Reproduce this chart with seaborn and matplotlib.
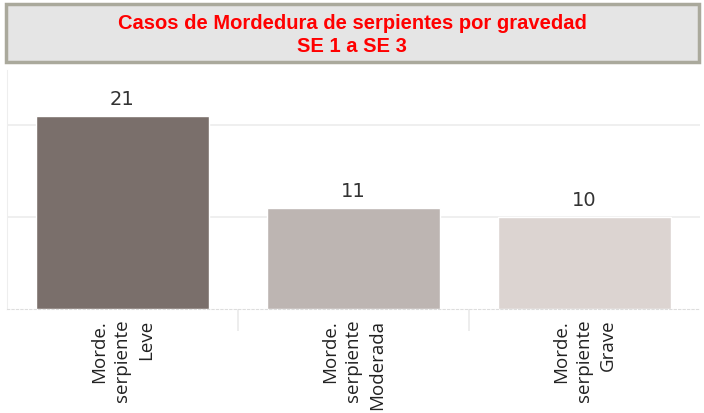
import numpy as np
import pandas as pd
import matplotlib.pyplot as plt
import seaborn as sns
from matplotlib.patches import Rectangle

categorias = ["Morde.\nserpiente\nLeve", "Morde.\nserpiente\nModerada", "Morde.\nserpiente\nGrave"]
casos = [21, 11, 10]
colores = ["#7a6f6b", "#bdb5b2", "#dcd4d1"]
titulo = "Casos de Mordedura de serpientes por gravedad\nSE 1 a SE 3"

df = pd.DataFrame({"gravedad": categorias, "casos": casos})

sns.set_style("white")
fig = plt.figure(figsize=(7.04, 4.14), dpi=100)
ax = fig.add_axes([0.01, 0.251, 0.984, 0.578])

sns.barplot(data=df, x="gravedad", y="casos", hue="gravedad", palette=colores,
            width=0.75, legend=False, ax=ax, saturation=1)

ax.set_ylim(0, 26)
ax.set_xlim(-0.5, 2.5)
ax.set_yticks([10, 20])
ax.set_yticklabels([])
ax.yaxis.grid(True, color="#ececec", linewidth=1.2)
ax.set_axisbelow(True)
ax.tick_params(axis="y", length=0)
ax.set_xlabel("")
ax.set_ylabel("")

for s in ["top", "right"]:
    ax.spines[s].set_visible(False)
ax.spines["left"].set_color("#eeeeee")
ax.spines["bottom"].set_color("#dddddd")
ax.spines["bottom"].set_linestyle((0, (2, 2)))

# etiquetas de valor
for i, v in enumerate(casos):
    ax.text(i, v + 0.9, str(v), ha="center", va="bottom", fontsize=14,
            color="#333333", family="DejaVu Sans")

# etiquetas del eje x
ax.set_xticks(range(len(categorias)))
ax.set_xticklabels(categorias, rotation=90, ha="center", va="top",
                   fontsize=13.5, color="#222222", family="Open Sans",
                   multialignment="right", linespacing=1.4)
ax.tick_params(axis="x", which="major", length=0, pad=7)
ax.set_xticks([0.5, 1.5], minor=True)
ax.tick_params(axis="x", which="minor", bottom=True, length=16,
               color="#eaeaea", width=1.2)

# caja del titulo
fig.patches.append(Rectangle((0.008, 0.848), 0.985, 0.140, transform=fig.transFigure,
                             facecolor="#e5e5e5", edgecolor="#aaa99c", linewidth=2.5))
fig.text(0.5, 0.916, titulo, ha="center", va="center", fontsize=14.5,
         fontweight="bold", color="#ff0000", family="Liberation Sans",
         linespacing=1.25)

fig.savefig("out.png", dpi=100)
